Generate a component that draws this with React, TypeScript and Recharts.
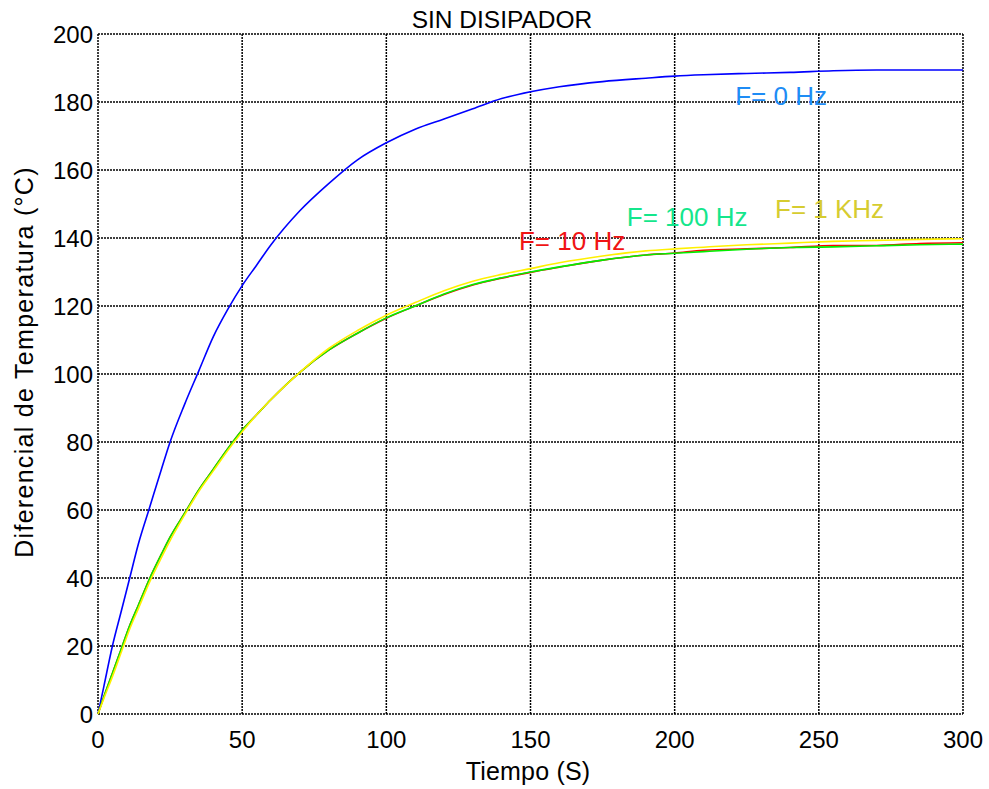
import * as React from "react";
import { LineChart, Line, CartesianGrid, XAxis, YAxis, ReferenceDot } from "recharts";

const FONT = '"Liberation Sans", Arial, sans-serif';

// tiempo (s)
const tiempo = [0, 2, 5, 8, 11, 14, 18, 22, 25, 30, 35, 40, 45, 50, 55, 60, 70, 80, 90, 100, 110, 120, 130, 140, 150, 160, 175, 190, 200, 210, 225, 240, 255, 270, 285, 300];

const f0Hz = [0, 8, 20, 30, 40, 50, 61, 72, 80, 91, 101, 111, 119, 126, 132, 138, 148, 156, 163, 168, 172, 175, 178, 181, 183, 184.5, 186, 187, 187.6, 188, 188.4, 188.7, 189.2, 189.4, 189.4, 189.4];
const f10Hz = [0, 5, 12, 19, 26, 32, 40, 47, 52, 59, 66, 72, 78, 83.5, 88, 92.5, 100.5, 107, 112, 116.4, 120, 123.4, 126.2, 128.2, 129.9, 131.4, 133.5, 135, 135.6, 136.4, 136.8, 137.2, 137.8, 137.8, 138.4, 138.6];
const f100Hz = [0, 5, 12, 19, 26, 32, 40, 47, 52, 59, 66, 72, 78, 83.5, 88, 92.5, 100.5, 107, 112, 116.5, 120, 123.5, 126.3, 128.3, 130, 131.5, 133.5, 135, 135.5, 136, 136.7, 137.2, 137.4, 137.7, 138, 138.2];
const f1kHz = [0, 4.5, 11, 18, 25, 31, 39, 46, 51, 58.5, 65.5, 71.5, 77.5, 83, 88, 92.5, 100.5, 107.5, 112.8, 117.3, 121, 124.5, 127.3, 129.3, 131, 132.7, 134.7, 136.2, 136.8, 137.3, 138, 138.5, 139, 139.3, 139.6, 139.8];

const xTicks = [0, 50, 100, 150, 200, 250, 300];
const yTicks = [0, 20, 40, 60, 80, 100, 120, 140, 160, 180, 200];

// etiquetas de curva: texto, tiempo, valor, color
const etiquetas = ["F= 0 Hz", "F= 10 Hz", "F= 100 Hz", "F= 1 KHz"];
const etiquetaT = [221, 146, 183.4, 234.8];
const etiquetaV = [179, 136.5, 143.5, 145.8];
const etiquetaColor = ["#1E8CF5", "#F01414", "#14E68C", "#D6CC30"];

const data = tiempo.map((t, i) => ({
  t,
  f0: f0Hz[i],
  f10: f10Hz[i],
  f100: f100Hz[i],
  f1k: f1kHz[i],
}));

function XTick({ x, y, payload }: any) {
  return (
    <text x={x} y={y + 34} textAnchor="middle" fill="#000" fontSize={24} fontFamily={FONT}>
      {payload.value}
    </text>
  );
}

function YTick({ x, y, payload }: any) {
  return (
    <text x={x - 5} y={y + 9} textAnchor="end" fill="#000" fontSize={24} fontFamily={FONT}>
      {payload.value}
    </text>
  );
}

export default function App() {
  return (
    <div style={{ position: "absolute", left: 0, top: 0, width: 989, height: 789, background: "#fff" }}>
      <LineChart width={989} height={789} data={data} margin={{ top: 34, right: 26, left: 0, bottom: 0 }}>
        <CartesianGrid stroke="#000" strokeDasharray="2 1" strokeWidth={1.5} />
        <XAxis
          dataKey="t"
          type="number"
          domain={[0, 300]}
          ticks={xTicks}
          height={75}
          axisLine={false}
          tickLine={false}
          tickSize={0}
          tickMargin={0}
          tick={<XTick />}
          interval={0}
        />
        <YAxis
          type="number"
          domain={[0, 200]}
          ticks={yTicks}
          width={98}
          axisLine={false}
          tickLine={false}
          tickSize={0}
          tickMargin={0}
          tick={<YTick />}
          interval={0}
        />
        <Line type="monotone" dataKey="f0" stroke="#0000FF" strokeWidth={1.6} dot={false} isAnimationActive={false} />
        <Line type="monotone" dataKey="f10" stroke="#FF0000" strokeWidth={1.6} dot={false} isAnimationActive={false} />
        <Line type="monotone" dataKey="f100" stroke="#00F000" strokeWidth={1.6} dot={false} isAnimationActive={false} />
        <Line type="monotone" dataKey="f1k" stroke="#FFF000" strokeWidth={1.6} dot={false} isAnimationActive={false} />
        {etiquetas.map((txt, i) => (
          <ReferenceDot
            key={txt}
            x={etiquetaT[i]}
            y={etiquetaV[i]}
            r={0}
            ifOverflow="visible"
            shape={(p: any) => (
              <text x={p.cx} y={p.cy} fill={etiquetaColor[i]} fontSize={26} fontFamily={FONT}>
                {txt}
              </text>
            )}
          />
        ))}
      </LineChart>
      <svg width={989} height={789} style={{ position: "absolute", left: 0, top: 0, pointerEvents: "none" }}>
        <text x={502} y={28} textAnchor="middle" fontSize={24.5} fontFamily={FONT} fill="#000">
          SIN DISIPADOR
        </text>
        <text x={528} y={780} textAnchor="middle" fontSize={25} letterSpacing={0.2} fontFamily={FONT} fill="#000">
          Tiempo (S)
        </text>
        <text
          x={0}
          y={0}
          transform="translate(33 362) rotate(-90)"
          textAnchor="middle"
          fontSize={25}
          letterSpacing={1.3}
          fontFamily={FONT}
          fill="#000"
        >
          Diferencial de Temperatura (°C)
        </text>
      </svg>
    </div>
  );
}
